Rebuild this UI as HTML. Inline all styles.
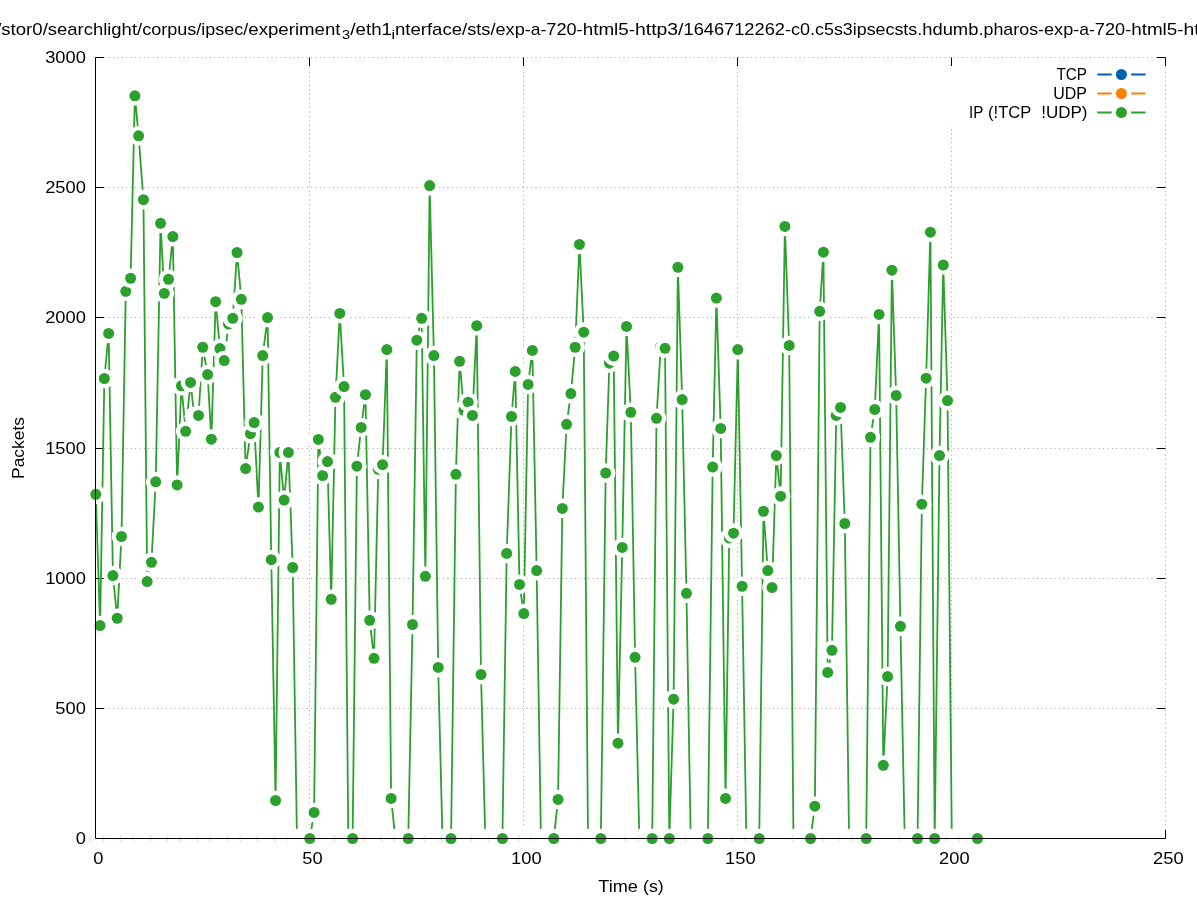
<!DOCTYPE html>
<html><head><meta charset="utf-8"><title>Packets over time</title>
<style>html,body{margin:0;padding:0;background:#fff}body{width:1197px;height:900px;overflow:hidden}svg{display:block;will-change:transform}text{font-family:"Liberation Sans",sans-serif;font-size:16.4px;fill:#000}</style>
</head><body>
<svg width="1197" height="900" viewBox="0 0 1197 900">
<rect x="0" y="0" width="1197" height="900" fill="#fff"/>
<g stroke="#a0a0a0" stroke-width="1" stroke-dasharray="1 3.4" fill="none">
<line x1="95.50" y1="838.50" x2="1165.50" y2="838.50"/>
<line x1="95.50" y1="708.50" x2="1165.50" y2="708.50"/>
<line x1="95.50" y1="578.50" x2="1165.50" y2="578.50"/>
<line x1="95.50" y1="448.50" x2="1165.50" y2="448.50"/>
<line x1="95.50" y1="317.50" x2="1165.50" y2="317.50"/>
<line x1="95.50" y1="187.50" x2="1165.50" y2="187.50"/>
<line x1="95.50" y1="57.50" x2="1165.50" y2="57.50"/>
<line x1="95.50" y1="838.50" x2="95.50" y2="57.50"/>
<line x1="309.50" y1="838.50" x2="309.50" y2="57.50"/>
<line x1="523.50" y1="838.50" x2="523.50" y2="57.50"/>
<line x1="737.50" y1="838.50" x2="737.50" y2="57.50"/>
<line x1="1165.50" y1="838.50" x2="1165.50" y2="57.50"/>
<line x1="951.50" y1="838.50" x2="951.50" y2="125.50"/>
</g>
<g stroke="#000" stroke-width="1" fill="none">
<path d="M95.50 838.50 h8.50 M1165.50 838.50 h-8.50"/>
<path d="M95.50 708.50 h8.50 M1165.50 708.50 h-8.50"/>
<path d="M95.50 578.50 h8.50 M1165.50 578.50 h-8.50"/>
<path d="M95.50 448.50 h8.50 M1165.50 448.50 h-8.50"/>
<path d="M95.50 317.50 h8.50 M1165.50 317.50 h-8.50"/>
<path d="M95.50 187.50 h8.50 M1165.50 187.50 h-8.50"/>
<path d="M95.50 57.50 h8.50 M1165.50 57.50 h-8.50"/>
<path d="M95.50 838.50 v-8.50 M95.50 57.50 v8.50"/>
<path d="M309.50 838.50 v-8.50 M309.50 57.50 v8.50"/>
<path d="M523.50 838.50 v-8.50 M523.50 57.50 v8.50"/>
<path d="M737.50 838.50 v-8.50 M737.50 57.50 v8.50"/>
<path d="M951.50 838.50 v-8.50 M951.50 57.50 v8.50"/>
<path d="M1165.50 838.50 v-8.50 M1165.50 57.50 v8.50"/>
</g>
<g>
<polyline fill="none" stroke="#ff7f00" stroke-width="1.8" stroke-linejoin="round" points="95.50,838.50 99.78,838.50 104.06,838.50 108.34,838.50 112.62,838.50 116.90,838.50 121.18,838.50 125.46,838.50 129.74,838.50 134.02,838.50 138.30,838.50 142.58,838.50 146.86,838.50 151.14,838.50 155.42,838.50 159.70,838.50 163.98,838.50 168.26,838.50 172.54,838.50 176.82,838.50 181.10,838.50 185.38,838.50 189.66,838.50 193.94,838.50 198.22,838.50 202.50,838.50 206.78,838.50 211.06,838.50 215.34,838.50 219.62,838.50 223.90,838.50 228.18,838.50 232.46,838.50 236.74,838.50 241.02,838.50 245.30,838.50 249.58,838.50 253.86,838.50 258.14,838.50 262.42,838.50 266.70,838.50 270.98,838.50 275.26,838.50 279.54,838.50 283.82,838.50 288.10,838.50 292.38,838.50 296.66,838.50 300.94,838.50 305.22,838.50 309.50,838.50 313.78,838.50 318.06,838.50 322.34,838.50 326.62,838.50 330.90,838.50 335.18,838.50 339.46,838.50 343.74,838.50 348.02,838.50 352.30,838.50 356.58,838.50 360.86,838.50 365.14,838.50 369.42,838.50 373.70,838.50 377.98,838.50 382.26,838.50 386.54,838.50 390.82,838.50 395.10,838.50 399.38,838.50 403.66,838.50 407.94,838.50 412.22,838.50 416.50,838.50 420.78,838.50 425.06,838.50 429.34,838.50 433.62,838.50 437.90,838.50 442.18,838.50 446.46,838.50 450.74,838.50 455.02,838.50 459.30,838.50 463.58,838.50 467.86,838.50 472.14,838.50 476.42,838.50 480.70,838.50 484.98,838.50 489.26,838.50 493.54,838.50 497.82,838.50 502.10,838.50 506.38,838.50 510.66,838.50 514.94,838.50 519.22,838.50 523.50,838.50 527.78,838.50 532.06,838.50 536.34,838.50 540.62,838.50 544.90,838.50 549.18,838.50 553.46,838.50 557.74,838.50 562.02,838.50 566.30,838.50 570.58,838.50 574.86,838.50 579.14,838.50 583.42,838.50 587.70,838.50 591.98,838.50 596.26,838.50 600.54,838.50 604.82,838.50 609.10,838.50 613.38,838.50 617.66,838.50 621.94,838.50 626.22,838.50 630.50,838.50 634.78,838.50 639.06,838.50 643.34,838.50 647.62,838.50 651.90,838.50 656.18,838.50 660.46,838.50 664.74,838.50 669.02,838.50 673.30,838.50 677.58,838.50 681.86,838.50 686.14,838.50 690.42,838.50 694.70,838.50 698.98,838.50 703.26,838.50 707.54,838.50 711.82,838.50 716.10,838.50 720.38,838.50 724.66,838.50 728.94,838.50 733.22,838.50 737.50,838.50 741.78,838.50 746.06,838.50 750.34,838.50 754.62,838.50 758.90,838.50 763.18,838.50 767.46,838.50 771.74,838.50 776.02,838.50 780.30,838.50 784.58,838.50 788.86,838.50 793.14,838.50 797.42,838.50 801.70,838.50 805.98,838.50 810.26,838.50 814.54,838.50 818.82,838.50 823.10,838.50 827.38,838.50 831.66,838.50 835.94,838.50 840.22,838.50 844.50,838.50 848.78,838.50 853.06,838.50 857.34,838.50 861.62,838.50 865.90,838.50 870.18,838.50 874.46,838.50 878.74,838.50 883.02,838.50 887.30,838.50 891.58,838.50 895.86,838.50 900.14,838.50 904.42,838.50 908.70,838.50 912.98,838.50 917.26,838.50 921.54,838.50 925.82,838.50 930.10,838.50 934.38,838.50 938.66,838.50 942.94,838.50 947.22,838.50 951.50,838.50 955.78,838.50 960.06,838.50 964.34,838.50 968.62,838.50 972.90,838.50 977.18,838.50"/>
<circle cx="95.50" cy="838.50" r="9.8" fill="#fff"/>
<circle cx="99.78" cy="838.50" r="9.8" fill="#fff"/>
<circle cx="104.06" cy="838.50" r="9.8" fill="#fff"/>
<circle cx="108.34" cy="838.50" r="9.8" fill="#fff"/>
<circle cx="112.62" cy="838.50" r="9.8" fill="#fff"/>
<circle cx="116.90" cy="838.50" r="9.8" fill="#fff"/>
<circle cx="121.18" cy="838.50" r="9.8" fill="#fff"/>
<circle cx="125.46" cy="838.50" r="9.8" fill="#fff"/>
<circle cx="129.74" cy="838.50" r="9.8" fill="#fff"/>
<circle cx="134.02" cy="838.50" r="9.8" fill="#fff"/>
<circle cx="138.30" cy="838.50" r="9.8" fill="#fff"/>
<circle cx="142.58" cy="838.50" r="9.8" fill="#fff"/>
<circle cx="146.86" cy="838.50" r="9.8" fill="#fff"/>
<circle cx="151.14" cy="838.50" r="9.8" fill="#fff"/>
<circle cx="155.42" cy="838.50" r="9.8" fill="#fff"/>
<circle cx="159.70" cy="838.50" r="9.8" fill="#fff"/>
<circle cx="163.98" cy="838.50" r="9.8" fill="#fff"/>
<circle cx="168.26" cy="838.50" r="9.8" fill="#fff"/>
<circle cx="172.54" cy="838.50" r="9.8" fill="#fff"/>
<circle cx="176.82" cy="838.50" r="9.8" fill="#fff"/>
<circle cx="181.10" cy="838.50" r="9.8" fill="#fff"/>
<circle cx="185.38" cy="838.50" r="9.8" fill="#fff"/>
<circle cx="189.66" cy="838.50" r="9.8" fill="#fff"/>
<circle cx="193.94" cy="838.50" r="9.8" fill="#fff"/>
<circle cx="198.22" cy="838.50" r="9.8" fill="#fff"/>
<circle cx="202.50" cy="838.50" r="9.8" fill="#fff"/>
<circle cx="206.78" cy="838.50" r="9.8" fill="#fff"/>
<circle cx="211.06" cy="838.50" r="9.8" fill="#fff"/>
<circle cx="215.34" cy="838.50" r="9.8" fill="#fff"/>
<circle cx="219.62" cy="838.50" r="9.8" fill="#fff"/>
<circle cx="223.90" cy="838.50" r="9.8" fill="#fff"/>
<circle cx="228.18" cy="838.50" r="9.8" fill="#fff"/>
<circle cx="232.46" cy="838.50" r="9.8" fill="#fff"/>
<circle cx="236.74" cy="838.50" r="9.8" fill="#fff"/>
<circle cx="241.02" cy="838.50" r="9.8" fill="#fff"/>
<circle cx="245.30" cy="838.50" r="9.8" fill="#fff"/>
<circle cx="249.58" cy="838.50" r="9.8" fill="#fff"/>
<circle cx="253.86" cy="838.50" r="9.8" fill="#fff"/>
<circle cx="258.14" cy="838.50" r="9.8" fill="#fff"/>
<circle cx="262.42" cy="838.50" r="9.8" fill="#fff"/>
<circle cx="266.70" cy="838.50" r="9.8" fill="#fff"/>
<circle cx="270.98" cy="838.50" r="9.8" fill="#fff"/>
<circle cx="275.26" cy="838.50" r="9.8" fill="#fff"/>
<circle cx="279.54" cy="838.50" r="9.8" fill="#fff"/>
<circle cx="283.82" cy="838.50" r="9.8" fill="#fff"/>
<circle cx="288.10" cy="838.50" r="9.8" fill="#fff"/>
<circle cx="292.38" cy="838.50" r="9.8" fill="#fff"/>
<circle cx="296.66" cy="838.50" r="9.8" fill="#fff"/>
<circle cx="300.94" cy="838.50" r="9.8" fill="#fff"/>
<circle cx="305.22" cy="838.50" r="9.8" fill="#fff"/>
<circle cx="309.50" cy="838.50" r="9.8" fill="#fff"/>
<circle cx="313.78" cy="838.50" r="9.8" fill="#fff"/>
<circle cx="318.06" cy="838.50" r="9.8" fill="#fff"/>
<circle cx="322.34" cy="838.50" r="9.8" fill="#fff"/>
<circle cx="326.62" cy="838.50" r="9.8" fill="#fff"/>
<circle cx="330.90" cy="838.50" r="9.8" fill="#fff"/>
<circle cx="335.18" cy="838.50" r="9.8" fill="#fff"/>
<circle cx="339.46" cy="838.50" r="9.8" fill="#fff"/>
<circle cx="343.74" cy="838.50" r="9.8" fill="#fff"/>
<circle cx="348.02" cy="838.50" r="9.8" fill="#fff"/>
<circle cx="352.30" cy="838.50" r="9.8" fill="#fff"/>
<circle cx="356.58" cy="838.50" r="9.8" fill="#fff"/>
<circle cx="360.86" cy="838.50" r="9.8" fill="#fff"/>
<circle cx="365.14" cy="838.50" r="9.8" fill="#fff"/>
<circle cx="369.42" cy="838.50" r="9.8" fill="#fff"/>
<circle cx="373.70" cy="838.50" r="9.8" fill="#fff"/>
<circle cx="377.98" cy="838.50" r="9.8" fill="#fff"/>
<circle cx="382.26" cy="838.50" r="9.8" fill="#fff"/>
<circle cx="386.54" cy="838.50" r="9.8" fill="#fff"/>
<circle cx="390.82" cy="838.50" r="9.8" fill="#fff"/>
<circle cx="395.10" cy="838.50" r="9.8" fill="#fff"/>
<circle cx="399.38" cy="838.50" r="9.8" fill="#fff"/>
<circle cx="403.66" cy="838.50" r="9.8" fill="#fff"/>
<circle cx="407.94" cy="838.50" r="9.8" fill="#fff"/>
<circle cx="412.22" cy="838.50" r="9.8" fill="#fff"/>
<circle cx="416.50" cy="838.50" r="9.8" fill="#fff"/>
<circle cx="420.78" cy="838.50" r="9.8" fill="#fff"/>
<circle cx="425.06" cy="838.50" r="9.8" fill="#fff"/>
<circle cx="429.34" cy="838.50" r="9.8" fill="#fff"/>
<circle cx="433.62" cy="838.50" r="9.8" fill="#fff"/>
<circle cx="437.90" cy="838.50" r="9.8" fill="#fff"/>
<circle cx="442.18" cy="838.50" r="9.8" fill="#fff"/>
<circle cx="446.46" cy="838.50" r="9.8" fill="#fff"/>
<circle cx="450.74" cy="838.50" r="9.8" fill="#fff"/>
<circle cx="455.02" cy="838.50" r="9.8" fill="#fff"/>
<circle cx="459.30" cy="838.50" r="9.8" fill="#fff"/>
<circle cx="463.58" cy="838.50" r="9.8" fill="#fff"/>
<circle cx="467.86" cy="838.50" r="9.8" fill="#fff"/>
<circle cx="472.14" cy="838.50" r="9.8" fill="#fff"/>
<circle cx="476.42" cy="838.50" r="9.8" fill="#fff"/>
<circle cx="480.70" cy="838.50" r="9.8" fill="#fff"/>
<circle cx="484.98" cy="838.50" r="9.8" fill="#fff"/>
<circle cx="489.26" cy="838.50" r="9.8" fill="#fff"/>
<circle cx="493.54" cy="838.50" r="9.8" fill="#fff"/>
<circle cx="497.82" cy="838.50" r="9.8" fill="#fff"/>
<circle cx="502.10" cy="838.50" r="9.8" fill="#fff"/>
<circle cx="506.38" cy="838.50" r="9.8" fill="#fff"/>
<circle cx="510.66" cy="838.50" r="9.8" fill="#fff"/>
<circle cx="514.94" cy="838.50" r="9.8" fill="#fff"/>
<circle cx="519.22" cy="838.50" r="9.8" fill="#fff"/>
<circle cx="523.50" cy="838.50" r="9.8" fill="#fff"/>
<circle cx="527.78" cy="838.50" r="9.8" fill="#fff"/>
<circle cx="532.06" cy="838.50" r="9.8" fill="#fff"/>
<circle cx="536.34" cy="838.50" r="9.8" fill="#fff"/>
<circle cx="540.62" cy="838.50" r="9.8" fill="#fff"/>
<circle cx="544.90" cy="838.50" r="9.8" fill="#fff"/>
<circle cx="549.18" cy="838.50" r="9.8" fill="#fff"/>
<circle cx="553.46" cy="838.50" r="9.8" fill="#fff"/>
<circle cx="557.74" cy="838.50" r="9.8" fill="#fff"/>
<circle cx="562.02" cy="838.50" r="9.8" fill="#fff"/>
<circle cx="566.30" cy="838.50" r="9.8" fill="#fff"/>
<circle cx="570.58" cy="838.50" r="9.8" fill="#fff"/>
<circle cx="574.86" cy="838.50" r="9.8" fill="#fff"/>
<circle cx="579.14" cy="838.50" r="9.8" fill="#fff"/>
<circle cx="583.42" cy="838.50" r="9.8" fill="#fff"/>
<circle cx="587.70" cy="838.50" r="9.8" fill="#fff"/>
<circle cx="591.98" cy="838.50" r="9.8" fill="#fff"/>
<circle cx="596.26" cy="838.50" r="9.8" fill="#fff"/>
<circle cx="600.54" cy="838.50" r="9.8" fill="#fff"/>
<circle cx="604.82" cy="838.50" r="9.8" fill="#fff"/>
<circle cx="609.10" cy="838.50" r="9.8" fill="#fff"/>
<circle cx="613.38" cy="838.50" r="9.8" fill="#fff"/>
<circle cx="617.66" cy="838.50" r="9.8" fill="#fff"/>
<circle cx="621.94" cy="838.50" r="9.8" fill="#fff"/>
<circle cx="626.22" cy="838.50" r="9.8" fill="#fff"/>
<circle cx="630.50" cy="838.50" r="9.8" fill="#fff"/>
<circle cx="634.78" cy="838.50" r="9.8" fill="#fff"/>
<circle cx="639.06" cy="838.50" r="9.8" fill="#fff"/>
<circle cx="643.34" cy="838.50" r="9.8" fill="#fff"/>
<circle cx="647.62" cy="838.50" r="9.8" fill="#fff"/>
<circle cx="651.90" cy="838.50" r="9.8" fill="#fff"/>
<circle cx="656.18" cy="838.50" r="9.8" fill="#fff"/>
<circle cx="660.46" cy="838.50" r="9.8" fill="#fff"/>
<circle cx="664.74" cy="838.50" r="9.8" fill="#fff"/>
<circle cx="669.02" cy="838.50" r="9.8" fill="#fff"/>
<circle cx="673.30" cy="838.50" r="9.8" fill="#fff"/>
<circle cx="677.58" cy="838.50" r="9.8" fill="#fff"/>
<circle cx="681.86" cy="838.50" r="9.8" fill="#fff"/>
<circle cx="686.14" cy="838.50" r="9.8" fill="#fff"/>
<circle cx="690.42" cy="838.50" r="9.8" fill="#fff"/>
<circle cx="694.70" cy="838.50" r="9.8" fill="#fff"/>
<circle cx="698.98" cy="838.50" r="9.8" fill="#fff"/>
<circle cx="703.26" cy="838.50" r="9.8" fill="#fff"/>
<circle cx="707.54" cy="838.50" r="9.8" fill="#fff"/>
<circle cx="711.82" cy="838.50" r="9.8" fill="#fff"/>
<circle cx="716.10" cy="838.50" r="9.8" fill="#fff"/>
<circle cx="720.38" cy="838.50" r="9.8" fill="#fff"/>
<circle cx="724.66" cy="838.50" r="9.8" fill="#fff"/>
<circle cx="728.94" cy="838.50" r="9.8" fill="#fff"/>
<circle cx="733.22" cy="838.50" r="9.8" fill="#fff"/>
<circle cx="737.50" cy="838.50" r="9.8" fill="#fff"/>
<circle cx="741.78" cy="838.50" r="9.8" fill="#fff"/>
<circle cx="746.06" cy="838.50" r="9.8" fill="#fff"/>
<circle cx="750.34" cy="838.50" r="9.8" fill="#fff"/>
<circle cx="754.62" cy="838.50" r="9.8" fill="#fff"/>
<circle cx="758.90" cy="838.50" r="9.8" fill="#fff"/>
<circle cx="763.18" cy="838.50" r="9.8" fill="#fff"/>
<circle cx="767.46" cy="838.50" r="9.8" fill="#fff"/>
<circle cx="771.74" cy="838.50" r="9.8" fill="#fff"/>
<circle cx="776.02" cy="838.50" r="9.8" fill="#fff"/>
<circle cx="780.30" cy="838.50" r="9.8" fill="#fff"/>
<circle cx="784.58" cy="838.50" r="9.8" fill="#fff"/>
<circle cx="788.86" cy="838.50" r="9.8" fill="#fff"/>
<circle cx="793.14" cy="838.50" r="9.8" fill="#fff"/>
<circle cx="797.42" cy="838.50" r="9.8" fill="#fff"/>
<circle cx="801.70" cy="838.50" r="9.8" fill="#fff"/>
<circle cx="805.98" cy="838.50" r="9.8" fill="#fff"/>
<circle cx="810.26" cy="838.50" r="9.8" fill="#fff"/>
<circle cx="814.54" cy="838.50" r="9.8" fill="#fff"/>
<circle cx="818.82" cy="838.50" r="9.8" fill="#fff"/>
<circle cx="823.10" cy="838.50" r="9.8" fill="#fff"/>
<circle cx="827.38" cy="838.50" r="9.8" fill="#fff"/>
<circle cx="831.66" cy="838.50" r="9.8" fill="#fff"/>
<circle cx="835.94" cy="838.50" r="9.8" fill="#fff"/>
<circle cx="840.22" cy="838.50" r="9.8" fill="#fff"/>
<circle cx="844.50" cy="838.50" r="9.8" fill="#fff"/>
<circle cx="848.78" cy="838.50" r="9.8" fill="#fff"/>
<circle cx="853.06" cy="838.50" r="9.8" fill="#fff"/>
<circle cx="857.34" cy="838.50" r="9.8" fill="#fff"/>
<circle cx="861.62" cy="838.50" r="9.8" fill="#fff"/>
<circle cx="865.90" cy="838.50" r="9.8" fill="#fff"/>
<circle cx="870.18" cy="838.50" r="9.8" fill="#fff"/>
<circle cx="874.46" cy="838.50" r="9.8" fill="#fff"/>
<circle cx="878.74" cy="838.50" r="9.8" fill="#fff"/>
<circle cx="883.02" cy="838.50" r="9.8" fill="#fff"/>
<circle cx="887.30" cy="838.50" r="9.8" fill="#fff"/>
<circle cx="891.58" cy="838.50" r="9.8" fill="#fff"/>
<circle cx="895.86" cy="838.50" r="9.8" fill="#fff"/>
<circle cx="900.14" cy="838.50" r="9.8" fill="#fff"/>
<circle cx="904.42" cy="838.50" r="9.8" fill="#fff"/>
<circle cx="908.70" cy="838.50" r="9.8" fill="#fff"/>
<circle cx="912.98" cy="838.50" r="9.8" fill="#fff"/>
<circle cx="917.26" cy="838.50" r="9.8" fill="#fff"/>
<circle cx="921.54" cy="838.50" r="9.8" fill="#fff"/>
<circle cx="925.82" cy="838.50" r="9.8" fill="#fff"/>
<circle cx="930.10" cy="838.50" r="9.8" fill="#fff"/>
<circle cx="934.38" cy="838.50" r="9.8" fill="#fff"/>
<circle cx="938.66" cy="838.50" r="9.8" fill="#fff"/>
<circle cx="942.94" cy="838.50" r="9.8" fill="#fff"/>
<circle cx="947.22" cy="838.50" r="9.8" fill="#fff"/>
<circle cx="951.50" cy="838.50" r="9.8" fill="#fff"/>
<circle cx="955.78" cy="838.50" r="9.8" fill="#fff"/>
<circle cx="960.06" cy="838.50" r="9.8" fill="#fff"/>
<circle cx="964.34" cy="838.50" r="9.8" fill="#fff"/>
<circle cx="968.62" cy="838.50" r="9.8" fill="#fff"/>
<circle cx="972.90" cy="838.50" r="9.8" fill="#fff"/>
<circle cx="977.18" cy="838.50" r="9.8" fill="#fff"/>
</g>
<g fill="none" stroke="#ff7f00" stroke-width="0.5" stroke-opacity="0.8">
<path d="M91.52 834.92 A5.35 5.35 0 0 0 91.52 842.08"/>
<path d="M104.36 834.92 A5.35 5.35 0 0 0 104.36 842.08"/>
<path d="M121.48 834.92 A5.35 5.35 0 0 0 121.48 842.08"/>
<path d="M134.32 834.92 A5.35 5.35 0 0 0 134.32 842.08"/>
<path d="M151.44 834.92 A5.35 5.35 0 0 0 151.44 842.08"/>
<path d="M168.56 834.92 A5.35 5.35 0 0 0 168.56 842.08"/>
<path d="M181.40 834.92 A5.35 5.35 0 0 0 181.40 842.08"/>
<path d="M198.52 834.92 A5.35 5.35 0 0 0 198.52 842.08"/>
<path d="M211.36 834.92 A5.35 5.35 0 0 0 211.36 842.08"/>
<path d="M228.48 834.92 A5.35 5.35 0 0 0 228.48 842.08"/>
<path d="M241.32 834.92 A5.35 5.35 0 0 0 241.32 842.08"/>
<path d="M258.44 834.92 A5.35 5.35 0 0 0 258.44 842.08"/>
<path d="M275.56 834.92 A5.35 5.35 0 0 0 275.56 842.08"/>
<path d="M288.40 834.92 A5.35 5.35 0 0 0 288.40 842.08"/>
<path d="M305.52 834.92 A5.35 5.35 0 0 0 305.52 842.08"/>
<path d="M318.36 834.92 A5.35 5.35 0 0 0 318.36 842.08"/>
<path d="M335.48 834.92 A5.35 5.35 0 0 0 335.48 842.08"/>
<path d="M348.32 834.92 A5.35 5.35 0 0 0 348.32 842.08"/>
<path d="M365.44 834.92 A5.35 5.35 0 0 0 365.44 842.08"/>
<path d="M382.56 834.92 A5.35 5.35 0 0 0 382.56 842.08"/>
<path d="M395.40 834.92 A5.35 5.35 0 0 0 395.40 842.08"/>
<path d="M412.52 834.92 A5.35 5.35 0 0 0 412.52 842.08"/>
<path d="M425.36 834.92 A5.35 5.35 0 0 0 425.36 842.08"/>
<path d="M442.48 834.92 A5.35 5.35 0 0 0 442.48 842.08"/>
<path d="M455.32 834.92 A5.35 5.35 0 0 0 455.32 842.08"/>
<path d="M472.44 834.92 A5.35 5.35 0 0 0 472.44 842.08"/>
<path d="M489.56 834.92 A5.35 5.35 0 0 0 489.56 842.08"/>
<path d="M502.40 834.92 A5.35 5.35 0 0 0 502.40 842.08"/>
<path d="M519.52 834.92 A5.35 5.35 0 0 0 519.52 842.08"/>
<path d="M532.36 834.92 A5.35 5.35 0 0 0 532.36 842.08"/>
<path d="M549.48 834.92 A5.35 5.35 0 0 0 549.48 842.08"/>
<path d="M579.44 834.92 A5.35 5.35 0 0 0 579.44 842.08"/>
<path d="M596.56 834.92 A5.35 5.35 0 0 0 596.56 842.08"/>
<path d="M609.40 834.92 A5.35 5.35 0 0 0 609.40 842.08"/>
<path d="M626.52 834.92 A5.35 5.35 0 0 0 626.52 842.08"/>
<path d="M639.36 834.92 A5.35 5.35 0 0 0 639.36 842.08"/>
<path d="M656.48 834.92 A5.35 5.35 0 0 0 656.48 842.08"/>
<path d="M686.44 834.92 A5.35 5.35 0 0 0 686.44 842.08"/>
<path d="M703.56 834.92 A5.35 5.35 0 0 0 703.56 842.08"/>
<path d="M716.40 834.92 A5.35 5.35 0 0 0 716.40 842.08"/>
<path d="M733.52 834.92 A5.35 5.35 0 0 0 733.52 842.08"/>
<path d="M746.36 834.92 A5.35 5.35 0 0 0 746.36 842.08"/>
<path d="M763.48 834.92 A5.35 5.35 0 0 0 763.48 842.08"/>
<path d="M793.44 834.92 A5.35 5.35 0 0 0 793.44 842.08"/>
<path d="M810.56 834.92 A5.35 5.35 0 0 0 810.56 842.08"/>
<path d="M823.40 834.92 A5.35 5.35 0 0 0 823.40 842.08"/>
<path d="M840.52 834.92 A5.35 5.35 0 0 0 840.52 842.08"/>
<path d="M853.36 834.92 A5.35 5.35 0 0 0 853.36 842.08"/>
<path d="M870.48 834.92 A5.35 5.35 0 0 0 870.48 842.08"/>
<path d="M900.44 834.92 A5.35 5.35 0 0 0 900.44 842.08"/>
<path d="M917.56 834.92 A5.35 5.35 0 0 0 917.56 842.08"/>
<path d="M930.40 834.92 A5.35 5.35 0 0 0 930.40 842.08"/>
<path d="M947.52 834.92 A5.35 5.35 0 0 0 947.52 842.08"/>
<path d="M960.36 834.92 A5.35 5.35 0 0 0 960.36 842.08"/>
</g>
<g>
<polyline fill="none" stroke="#2ca02c" stroke-width="1.8" stroke-linejoin="round" points="95.80,494.34 100.08,625.55 104.36,378.49 108.64,333.45 112.92,575.56 117.20,618.26 121.48,536.51 125.76,291.28 130.60,278.26 134.88,95.77 138.60,135.86 143.44,199.64 147.16,581.55 151.44,562.29 155.72,481.84 160.56,223.33 164.28,293.36 168.56,279.30 172.84,236.61 177.12,484.97 181.40,385.78 185.68,431.34 190.52,382.40 194.24,416.24 198.52,415.46 202.80,347.25 207.64,374.59 211.36,439.15 215.64,301.69 219.92,348.55 224.20,360.53 228.48,324.08 232.76,318.35 237.04,252.49 241.32,299.35 245.60,468.57 250.44,433.68 254.16,422.49 258.44,507.10 262.72,355.58 267.56,317.57 271.28,559.68 275.56,800.49 279.84,452.43 284.12,500.07 288.40,452.43 292.68,567.49 296.96,838.50 301.24,838.50 305.52,838.50 309.80,838.50 314.08,812.47 318.36,439.41 322.64,475.60 327.48,461.54 331.20,599.25 335.48,397.24 339.76,313.41 344.04,386.56 348.32,838.50 352.60,838.50 356.88,466.22 361.16,427.43 365.44,394.63 369.72,620.34 374.00,658.35 378.28,469.35 382.56,464.66 386.84,349.59 391.12,798.41 395.40,838.50 399.68,838.50 403.96,838.50 408.24,838.50 412.52,624.51 416.80,340.22 421.64,318.35 425.36,576.34 429.64,185.58 433.92,355.58 438.20,667.46 442.48,838.50 446.76,838.50 451.04,838.50 455.88,474.29 459.60,361.31 463.88,410.25 468.16,402.18 472.44,415.46 476.72,325.64 481.00,674.49 485.28,838.50 489.56,838.50 493.84,838.50 498.12,838.50 502.40,838.50 506.68,553.43 511.52,416.50 515.24,371.46 519.52,584.41 523.80,613.57 528.08,384.48 532.36,350.38 536.64,570.62 540.92,838.50 545.20,838.50 549.48,838.50 553.76,838.50 558.04,799.45 562.32,508.40 566.60,424.31 570.88,393.59 575.16,347.25 579.44,244.42 583.72,332.15 588.00,838.50 592.28,838.50 596.56,838.50 600.84,838.50 605.68,472.99 609.40,363.13 613.68,356.10 617.96,743.22 622.24,547.45 626.52,326.42 630.80,412.33 635.08,657.31 639.36,838.50 643.64,838.50 647.92,838.50 652.20,838.50 656.48,418.32 660.76,346.47 665.04,348.29 669.32,838.50 673.60,699.22 677.88,267.33 682.16,399.58 686.44,593.27 690.72,838.50 695.00,838.50 699.28,838.50 703.56,838.50 707.84,838.50 712.68,467.00 716.40,298.05 720.68,428.48 725.52,798.41 729.24,538.08 733.52,533.13 737.80,349.59 742.08,586.24 746.36,838.50 750.64,838.50 754.92,838.50 759.20,838.50 763.48,511.26 767.76,570.62 772.04,587.54 776.32,455.55 780.60,496.16 784.88,226.46 789.16,345.43 793.44,838.50 797.72,838.50 802.00,838.50 806.28,838.50 810.56,838.50 814.84,806.22 819.68,311.33 823.40,252.23 827.68,672.41 831.96,650.28 836.24,415.46 840.52,407.39 844.80,523.50 849.08,838.50 853.36,838.50 857.64,838.50 861.92,838.50 866.20,838.50 870.48,437.33 874.76,409.47 879.04,314.45 883.32,765.35 887.60,676.57 891.88,270.19 896.16,395.41 900.44,626.33 904.72,838.50 909.00,838.50 913.28,838.50 917.56,838.50 921.84,504.23 926.12,378.23 930.40,232.18 934.68,838.50 939.52,455.55 943.24,264.99 947.52,400.62 951.80,838.50 956.08,838.50 960.36,838.50 964.64,838.50 968.92,838.50 973.20,838.50 977.48,838.50"/>
<circle cx="95.80" cy="494.34" r="9.8" fill="#fff"/>
<circle cx="95.80" cy="494.34" r="5.5" fill="#2ca02c"/>
<circle cx="100.08" cy="625.55" r="9.8" fill="#fff"/>
<circle cx="100.08" cy="625.55" r="5.5" fill="#2ca02c"/>
<circle cx="104.36" cy="378.49" r="9.8" fill="#fff"/>
<circle cx="104.36" cy="378.49" r="5.5" fill="#2ca02c"/>
<circle cx="108.64" cy="333.45" r="9.8" fill="#fff"/>
<circle cx="108.64" cy="333.45" r="5.5" fill="#2ca02c"/>
<circle cx="112.92" cy="575.56" r="9.8" fill="#fff"/>
<circle cx="112.92" cy="575.56" r="5.5" fill="#2ca02c"/>
<circle cx="117.20" cy="618.26" r="9.8" fill="#fff"/>
<circle cx="117.20" cy="618.26" r="5.5" fill="#2ca02c"/>
<circle cx="121.48" cy="536.51" r="9.8" fill="#fff"/>
<circle cx="121.48" cy="536.51" r="5.5" fill="#2ca02c"/>
<circle cx="125.76" cy="291.28" r="9.8" fill="#fff"/>
<circle cx="125.76" cy="291.28" r="5.5" fill="#2ca02c"/>
<circle cx="130.60" cy="278.26" r="9.8" fill="#fff"/>
<circle cx="130.60" cy="278.26" r="5.5" fill="#2ca02c"/>
<circle cx="134.88" cy="95.77" r="9.8" fill="#fff"/>
<circle cx="134.88" cy="95.77" r="5.5" fill="#2ca02c"/>
<circle cx="138.60" cy="135.86" r="9.8" fill="#fff"/>
<circle cx="138.60" cy="135.86" r="5.5" fill="#2ca02c"/>
<circle cx="143.44" cy="199.64" r="9.8" fill="#fff"/>
<circle cx="143.44" cy="199.64" r="5.5" fill="#2ca02c"/>
<circle cx="147.16" cy="581.55" r="9.8" fill="#fff"/>
<circle cx="147.16" cy="581.55" r="5.5" fill="#2ca02c"/>
<circle cx="151.44" cy="562.29" r="9.8" fill="#fff"/>
<circle cx="151.44" cy="562.29" r="5.5" fill="#2ca02c"/>
<circle cx="155.72" cy="481.84" r="9.8" fill="#fff"/>
<circle cx="155.72" cy="481.84" r="5.5" fill="#2ca02c"/>
<circle cx="160.56" cy="223.33" r="9.8" fill="#fff"/>
<circle cx="160.56" cy="223.33" r="5.5" fill="#2ca02c"/>
<circle cx="164.28" cy="293.36" r="9.8" fill="#fff"/>
<circle cx="164.28" cy="293.36" r="5.5" fill="#2ca02c"/>
<circle cx="168.56" cy="279.30" r="9.8" fill="#fff"/>
<circle cx="168.56" cy="279.30" r="5.5" fill="#2ca02c"/>
<circle cx="172.84" cy="236.61" r="9.8" fill="#fff"/>
<circle cx="172.84" cy="236.61" r="5.5" fill="#2ca02c"/>
<circle cx="177.12" cy="484.97" r="9.8" fill="#fff"/>
<circle cx="177.12" cy="484.97" r="5.5" fill="#2ca02c"/>
<circle cx="181.40" cy="385.78" r="9.8" fill="#fff"/>
<circle cx="181.40" cy="385.78" r="5.5" fill="#2ca02c"/>
<circle cx="185.68" cy="431.34" r="9.8" fill="#fff"/>
<circle cx="185.68" cy="431.34" r="5.5" fill="#2ca02c"/>
<circle cx="190.52" cy="382.40" r="9.8" fill="#fff"/>
<circle cx="190.52" cy="382.40" r="5.5" fill="#2ca02c"/>
<circle cx="194.24" cy="416.24" r="9.8" fill="#fff"/>
<circle cx="198.52" cy="415.46" r="9.8" fill="#fff"/>
<circle cx="198.52" cy="415.46" r="5.5" fill="#2ca02c"/>
<circle cx="202.80" cy="347.25" r="9.8" fill="#fff"/>
<circle cx="202.80" cy="347.25" r="5.5" fill="#2ca02c"/>
<circle cx="207.64" cy="374.59" r="9.8" fill="#fff"/>
<circle cx="207.64" cy="374.59" r="5.5" fill="#2ca02c"/>
<circle cx="211.36" cy="439.15" r="9.8" fill="#fff"/>
<circle cx="211.36" cy="439.15" r="5.5" fill="#2ca02c"/>
<circle cx="215.64" cy="301.69" r="9.8" fill="#fff"/>
<circle cx="215.64" cy="301.69" r="5.5" fill="#2ca02c"/>
<circle cx="219.92" cy="348.55" r="9.8" fill="#fff"/>
<circle cx="219.92" cy="348.55" r="5.5" fill="#2ca02c"/>
<circle cx="224.20" cy="360.53" r="9.8" fill="#fff"/>
<circle cx="224.20" cy="360.53" r="5.5" fill="#2ca02c"/>
<circle cx="228.48" cy="324.08" r="9.8" fill="#fff"/>
<circle cx="228.48" cy="324.08" r="5.5" fill="#2ca02c"/>
<circle cx="232.76" cy="318.35" r="9.8" fill="#fff"/>
<circle cx="232.76" cy="318.35" r="5.5" fill="#2ca02c"/>
<circle cx="237.04" cy="252.49" r="9.8" fill="#fff"/>
<circle cx="237.04" cy="252.49" r="5.5" fill="#2ca02c"/>
<circle cx="241.32" cy="299.35" r="9.8" fill="#fff"/>
<circle cx="241.32" cy="299.35" r="5.5" fill="#2ca02c"/>
<circle cx="245.60" cy="468.57" r="9.8" fill="#fff"/>
<circle cx="245.60" cy="468.57" r="5.5" fill="#2ca02c"/>
<circle cx="250.44" cy="433.68" r="9.8" fill="#fff"/>
<circle cx="250.44" cy="433.68" r="5.5" fill="#2ca02c"/>
<circle cx="254.16" cy="422.49" r="9.8" fill="#fff"/>
<circle cx="254.16" cy="422.49" r="5.5" fill="#2ca02c"/>
<circle cx="258.44" cy="507.10" r="9.8" fill="#fff"/>
<circle cx="258.44" cy="507.10" r="5.5" fill="#2ca02c"/>
<circle cx="262.72" cy="355.58" r="9.8" fill="#fff"/>
<circle cx="262.72" cy="355.58" r="5.5" fill="#2ca02c"/>
<circle cx="267.56" cy="317.57" r="9.8" fill="#fff"/>
<circle cx="267.56" cy="317.57" r="5.5" fill="#2ca02c"/>
<circle cx="271.28" cy="559.68" r="9.8" fill="#fff"/>
<circle cx="271.28" cy="559.68" r="5.5" fill="#2ca02c"/>
<circle cx="275.56" cy="800.49" r="9.8" fill="#fff"/>
<circle cx="275.56" cy="800.49" r="5.5" fill="#2ca02c"/>
<circle cx="279.84" cy="452.43" r="9.8" fill="#fff"/>
<circle cx="279.84" cy="452.43" r="5.5" fill="#2ca02c"/>
<circle cx="284.12" cy="500.07" r="9.8" fill="#fff"/>
<circle cx="284.12" cy="500.07" r="5.5" fill="#2ca02c"/>
<circle cx="288.40" cy="452.43" r="9.8" fill="#fff"/>
<circle cx="288.40" cy="452.43" r="5.5" fill="#2ca02c"/>
<circle cx="292.68" cy="567.49" r="9.8" fill="#fff"/>
<circle cx="292.68" cy="567.49" r="5.5" fill="#2ca02c"/>
<circle cx="296.96" cy="838.50" r="9.8" fill="#fff"/>
<circle cx="301.24" cy="838.50" r="9.8" fill="#fff"/>
<circle cx="305.52" cy="838.50" r="9.8" fill="#fff"/>
<circle cx="309.80" cy="838.50" r="9.8" fill="#fff"/>
<circle cx="309.80" cy="838.50" r="5.5" fill="#2ca02c"/>
<circle cx="314.08" cy="812.47" r="9.8" fill="#fff"/>
<circle cx="314.08" cy="812.47" r="5.5" fill="#2ca02c"/>
<circle cx="318.36" cy="439.41" r="9.8" fill="#fff"/>
<circle cx="318.36" cy="439.41" r="5.5" fill="#2ca02c"/>
<circle cx="322.64" cy="475.60" r="9.8" fill="#fff"/>
<circle cx="322.64" cy="475.60" r="5.5" fill="#2ca02c"/>
<circle cx="327.48" cy="461.54" r="9.8" fill="#fff"/>
<circle cx="327.48" cy="461.54" r="5.5" fill="#2ca02c"/>
<circle cx="331.20" cy="599.25" r="9.8" fill="#fff"/>
<circle cx="331.20" cy="599.25" r="5.5" fill="#2ca02c"/>
<circle cx="335.48" cy="397.24" r="9.8" fill="#fff"/>
<circle cx="335.48" cy="397.24" r="5.5" fill="#2ca02c"/>
<circle cx="339.76" cy="313.41" r="9.8" fill="#fff"/>
<circle cx="339.76" cy="313.41" r="5.5" fill="#2ca02c"/>
<circle cx="344.04" cy="386.56" r="9.8" fill="#fff"/>
<circle cx="344.04" cy="386.56" r="5.5" fill="#2ca02c"/>
<circle cx="348.32" cy="838.50" r="9.8" fill="#fff"/>
<circle cx="352.60" cy="838.50" r="9.8" fill="#fff"/>
<circle cx="352.60" cy="838.50" r="5.5" fill="#2ca02c"/>
<circle cx="356.88" cy="466.22" r="9.8" fill="#fff"/>
<circle cx="356.88" cy="466.22" r="5.5" fill="#2ca02c"/>
<circle cx="361.16" cy="427.43" r="9.8" fill="#fff"/>
<circle cx="361.16" cy="427.43" r="5.5" fill="#2ca02c"/>
<circle cx="365.44" cy="394.63" r="9.8" fill="#fff"/>
<circle cx="365.44" cy="394.63" r="5.5" fill="#2ca02c"/>
<circle cx="369.72" cy="620.34" r="9.8" fill="#fff"/>
<circle cx="369.72" cy="620.34" r="5.5" fill="#2ca02c"/>
<circle cx="374.00" cy="658.35" r="9.8" fill="#fff"/>
<circle cx="374.00" cy="658.35" r="5.5" fill="#2ca02c"/>
<circle cx="378.28" cy="469.35" r="9.8" fill="#fff"/>
<circle cx="378.28" cy="469.35" r="5.5" fill="#2ca02c"/>
<circle cx="382.56" cy="464.66" r="9.8" fill="#fff"/>
<circle cx="382.56" cy="464.66" r="5.5" fill="#2ca02c"/>
<circle cx="386.84" cy="349.59" r="9.8" fill="#fff"/>
<circle cx="386.84" cy="349.59" r="5.5" fill="#2ca02c"/>
<circle cx="391.12" cy="798.41" r="9.8" fill="#fff"/>
<circle cx="391.12" cy="798.41" r="5.5" fill="#2ca02c"/>
<circle cx="395.40" cy="838.50" r="9.8" fill="#fff"/>
<circle cx="399.68" cy="838.50" r="9.8" fill="#fff"/>
<circle cx="403.96" cy="838.50" r="9.8" fill="#fff"/>
<circle cx="408.24" cy="838.50" r="9.8" fill="#fff"/>
<circle cx="408.24" cy="838.50" r="5.5" fill="#2ca02c"/>
<circle cx="412.52" cy="624.51" r="9.8" fill="#fff"/>
<circle cx="412.52" cy="624.51" r="5.5" fill="#2ca02c"/>
<circle cx="416.80" cy="340.22" r="9.8" fill="#fff"/>
<circle cx="416.80" cy="340.22" r="5.5" fill="#2ca02c"/>
<circle cx="421.64" cy="318.35" r="9.8" fill="#fff"/>
<circle cx="421.64" cy="318.35" r="5.5" fill="#2ca02c"/>
<circle cx="425.36" cy="576.34" r="9.8" fill="#fff"/>
<circle cx="425.36" cy="576.34" r="5.5" fill="#2ca02c"/>
<circle cx="429.64" cy="185.58" r="9.8" fill="#fff"/>
<circle cx="429.64" cy="185.58" r="5.5" fill="#2ca02c"/>
<circle cx="433.92" cy="355.58" r="9.8" fill="#fff"/>
<circle cx="433.92" cy="355.58" r="5.5" fill="#2ca02c"/>
<circle cx="438.20" cy="667.46" r="9.8" fill="#fff"/>
<circle cx="438.20" cy="667.46" r="5.5" fill="#2ca02c"/>
<circle cx="442.48" cy="838.50" r="9.8" fill="#fff"/>
<circle cx="446.76" cy="838.50" r="9.8" fill="#fff"/>
<circle cx="451.04" cy="838.50" r="9.8" fill="#fff"/>
<circle cx="451.04" cy="838.50" r="5.5" fill="#2ca02c"/>
<circle cx="455.88" cy="474.29" r="9.8" fill="#fff"/>
<circle cx="455.88" cy="474.29" r="5.5" fill="#2ca02c"/>
<circle cx="459.60" cy="361.31" r="9.8" fill="#fff"/>
<circle cx="459.60" cy="361.31" r="5.5" fill="#2ca02c"/>
<circle cx="463.88" cy="410.25" r="9.8" fill="#fff"/>
<circle cx="463.88" cy="410.25" r="5.5" fill="#2ca02c"/>
<circle cx="468.16" cy="402.18" r="9.8" fill="#fff"/>
<circle cx="468.16" cy="402.18" r="5.5" fill="#2ca02c"/>
<circle cx="472.44" cy="415.46" r="9.8" fill="#fff"/>
<circle cx="472.44" cy="415.46" r="5.5" fill="#2ca02c"/>
<circle cx="476.72" cy="325.64" r="9.8" fill="#fff"/>
<circle cx="476.72" cy="325.64" r="5.5" fill="#2ca02c"/>
<circle cx="481.00" cy="674.49" r="9.8" fill="#fff"/>
<circle cx="481.00" cy="674.49" r="5.5" fill="#2ca02c"/>
<circle cx="485.28" cy="838.50" r="9.8" fill="#fff"/>
<circle cx="489.56" cy="838.50" r="9.8" fill="#fff"/>
<circle cx="493.84" cy="838.50" r="9.8" fill="#fff"/>
<circle cx="498.12" cy="838.50" r="9.8" fill="#fff"/>
<circle cx="502.40" cy="838.50" r="9.8" fill="#fff"/>
<circle cx="502.40" cy="838.50" r="5.5" fill="#2ca02c"/>
<circle cx="506.68" cy="553.43" r="9.8" fill="#fff"/>
<circle cx="506.68" cy="553.43" r="5.5" fill="#2ca02c"/>
<circle cx="511.52" cy="416.50" r="9.8" fill="#fff"/>
<circle cx="511.52" cy="416.50" r="5.5" fill="#2ca02c"/>
<circle cx="515.24" cy="371.46" r="9.8" fill="#fff"/>
<circle cx="515.24" cy="371.46" r="5.5" fill="#2ca02c"/>
<circle cx="519.52" cy="584.41" r="9.8" fill="#fff"/>
<circle cx="519.52" cy="584.41" r="5.5" fill="#2ca02c"/>
<circle cx="523.80" cy="613.57" r="9.8" fill="#fff"/>
<circle cx="523.80" cy="613.57" r="5.5" fill="#2ca02c"/>
<circle cx="528.08" cy="384.48" r="9.8" fill="#fff"/>
<circle cx="528.08" cy="384.48" r="5.5" fill="#2ca02c"/>
<circle cx="532.36" cy="350.38" r="9.8" fill="#fff"/>
<circle cx="532.36" cy="350.38" r="5.5" fill="#2ca02c"/>
<circle cx="536.64" cy="570.62" r="9.8" fill="#fff"/>
<circle cx="536.64" cy="570.62" r="5.5" fill="#2ca02c"/>
<circle cx="540.92" cy="838.50" r="9.8" fill="#fff"/>
<circle cx="545.20" cy="838.50" r="9.8" fill="#fff"/>
<circle cx="549.48" cy="838.50" r="9.8" fill="#fff"/>
<circle cx="553.76" cy="838.50" r="9.8" fill="#fff"/>
<circle cx="553.76" cy="838.50" r="5.5" fill="#2ca02c"/>
<circle cx="558.04" cy="799.45" r="9.8" fill="#fff"/>
<circle cx="558.04" cy="799.45" r="5.5" fill="#2ca02c"/>
<circle cx="562.32" cy="508.40" r="9.8" fill="#fff"/>
<circle cx="562.32" cy="508.40" r="5.5" fill="#2ca02c"/>
<circle cx="566.60" cy="424.31" r="9.8" fill="#fff"/>
<circle cx="566.60" cy="424.31" r="5.5" fill="#2ca02c"/>
<circle cx="570.88" cy="393.59" r="9.8" fill="#fff"/>
<circle cx="570.88" cy="393.59" r="5.5" fill="#2ca02c"/>
<circle cx="575.16" cy="347.25" r="9.8" fill="#fff"/>
<circle cx="575.16" cy="347.25" r="5.5" fill="#2ca02c"/>
<circle cx="579.44" cy="244.42" r="9.8" fill="#fff"/>
<circle cx="579.44" cy="244.42" r="5.5" fill="#2ca02c"/>
<circle cx="583.72" cy="332.15" r="9.8" fill="#fff"/>
<circle cx="583.72" cy="332.15" r="5.5" fill="#2ca02c"/>
<circle cx="588.00" cy="838.50" r="9.8" fill="#fff"/>
<circle cx="592.28" cy="838.50" r="9.8" fill="#fff"/>
<circle cx="596.56" cy="838.50" r="9.8" fill="#fff"/>
<circle cx="600.84" cy="838.50" r="9.8" fill="#fff"/>
<circle cx="600.84" cy="838.50" r="5.5" fill="#2ca02c"/>
<circle cx="605.68" cy="472.99" r="9.8" fill="#fff"/>
<circle cx="605.68" cy="472.99" r="5.5" fill="#2ca02c"/>
<circle cx="609.40" cy="363.13" r="9.8" fill="#fff"/>
<circle cx="609.40" cy="363.13" r="5.5" fill="#2ca02c"/>
<circle cx="613.68" cy="356.10" r="9.8" fill="#fff"/>
<circle cx="613.68" cy="356.10" r="5.5" fill="#2ca02c"/>
<circle cx="617.96" cy="743.22" r="9.8" fill="#fff"/>
<circle cx="617.96" cy="743.22" r="5.5" fill="#2ca02c"/>
<circle cx="622.24" cy="547.45" r="9.8" fill="#fff"/>
<circle cx="622.24" cy="547.45" r="5.5" fill="#2ca02c"/>
<circle cx="626.52" cy="326.42" r="9.8" fill="#fff"/>
<circle cx="626.52" cy="326.42" r="5.5" fill="#2ca02c"/>
<circle cx="630.80" cy="412.33" r="9.8" fill="#fff"/>
<circle cx="630.80" cy="412.33" r="5.5" fill="#2ca02c"/>
<circle cx="635.08" cy="657.31" r="9.8" fill="#fff"/>
<circle cx="635.08" cy="657.31" r="5.5" fill="#2ca02c"/>
<circle cx="639.36" cy="838.50" r="9.8" fill="#fff"/>
<circle cx="643.64" cy="838.50" r="9.8" fill="#fff"/>
<circle cx="647.92" cy="838.50" r="9.8" fill="#fff"/>
<circle cx="652.20" cy="838.50" r="9.8" fill="#fff"/>
<circle cx="652.20" cy="838.50" r="5.5" fill="#2ca02c"/>
<circle cx="656.48" cy="418.32" r="9.8" fill="#fff"/>
<circle cx="656.48" cy="418.32" r="5.5" fill="#2ca02c"/>
<circle cx="660.76" cy="346.47" r="9.8" fill="#fff"/>
<circle cx="660.76" cy="346.47" r="5.5" fill="#2ca02c"/>
<circle cx="665.04" cy="348.29" r="9.8" fill="#fff"/>
<circle cx="665.04" cy="348.29" r="5.5" fill="#2ca02c"/>
<circle cx="669.32" cy="838.50" r="9.8" fill="#fff"/>
<circle cx="669.32" cy="838.50" r="5.5" fill="#2ca02c"/>
<circle cx="673.60" cy="699.22" r="9.8" fill="#fff"/>
<circle cx="673.60" cy="699.22" r="5.5" fill="#2ca02c"/>
<circle cx="677.88" cy="267.33" r="9.8" fill="#fff"/>
<circle cx="677.88" cy="267.33" r="5.5" fill="#2ca02c"/>
<circle cx="682.16" cy="399.58" r="9.8" fill="#fff"/>
<circle cx="682.16" cy="399.58" r="5.5" fill="#2ca02c"/>
<circle cx="686.44" cy="593.27" r="9.8" fill="#fff"/>
<circle cx="686.44" cy="593.27" r="5.5" fill="#2ca02c"/>
<circle cx="690.72" cy="838.50" r="9.8" fill="#fff"/>
<circle cx="695.00" cy="838.50" r="9.8" fill="#fff"/>
<circle cx="699.28" cy="838.50" r="9.8" fill="#fff"/>
<circle cx="703.56" cy="838.50" r="9.8" fill="#fff"/>
<circle cx="707.84" cy="838.50" r="9.8" fill="#fff"/>
<circle cx="707.84" cy="838.50" r="5.5" fill="#2ca02c"/>
<circle cx="712.68" cy="467.00" r="9.8" fill="#fff"/>
<circle cx="712.68" cy="467.00" r="5.5" fill="#2ca02c"/>
<circle cx="716.40" cy="298.05" r="9.8" fill="#fff"/>
<circle cx="716.40" cy="298.05" r="5.5" fill="#2ca02c"/>
<circle cx="720.68" cy="428.48" r="9.8" fill="#fff"/>
<circle cx="720.68" cy="428.48" r="5.5" fill="#2ca02c"/>
<circle cx="725.52" cy="798.41" r="9.8" fill="#fff"/>
<circle cx="725.52" cy="798.41" r="5.5" fill="#2ca02c"/>
<circle cx="729.24" cy="538.08" r="9.8" fill="#fff"/>
<circle cx="729.24" cy="538.08" r="5.5" fill="#2ca02c"/>
<circle cx="733.52" cy="533.13" r="9.8" fill="#fff"/>
<circle cx="733.52" cy="533.13" r="5.5" fill="#2ca02c"/>
<circle cx="737.80" cy="349.59" r="9.8" fill="#fff"/>
<circle cx="737.80" cy="349.59" r="5.5" fill="#2ca02c"/>
<circle cx="742.08" cy="586.24" r="9.8" fill="#fff"/>
<circle cx="742.08" cy="586.24" r="5.5" fill="#2ca02c"/>
<circle cx="746.36" cy="838.50" r="9.8" fill="#fff"/>
<circle cx="750.64" cy="838.50" r="9.8" fill="#fff"/>
<circle cx="754.92" cy="838.50" r="9.8" fill="#fff"/>
<circle cx="759.20" cy="838.50" r="9.8" fill="#fff"/>
<circle cx="759.20" cy="838.50" r="5.5" fill="#2ca02c"/>
<circle cx="763.48" cy="511.26" r="9.8" fill="#fff"/>
<circle cx="763.48" cy="511.26" r="5.5" fill="#2ca02c"/>
<circle cx="767.76" cy="570.62" r="9.8" fill="#fff"/>
<circle cx="767.76" cy="570.62" r="5.5" fill="#2ca02c"/>
<circle cx="772.04" cy="587.54" r="9.8" fill="#fff"/>
<circle cx="772.04" cy="587.54" r="5.5" fill="#2ca02c"/>
<circle cx="776.32" cy="455.55" r="9.8" fill="#fff"/>
<circle cx="776.32" cy="455.55" r="5.5" fill="#2ca02c"/>
<circle cx="780.60" cy="496.16" r="9.8" fill="#fff"/>
<circle cx="780.60" cy="496.16" r="5.5" fill="#2ca02c"/>
<circle cx="784.88" cy="226.46" r="9.8" fill="#fff"/>
<circle cx="784.88" cy="226.46" r="5.5" fill="#2ca02c"/>
<circle cx="789.16" cy="345.43" r="9.8" fill="#fff"/>
<circle cx="789.16" cy="345.43" r="5.5" fill="#2ca02c"/>
<circle cx="793.44" cy="838.50" r="9.8" fill="#fff"/>
<circle cx="797.72" cy="838.50" r="9.8" fill="#fff"/>
<circle cx="802.00" cy="838.50" r="9.8" fill="#fff"/>
<circle cx="806.28" cy="838.50" r="9.8" fill="#fff"/>
<circle cx="810.56" cy="838.50" r="9.8" fill="#fff"/>
<circle cx="810.56" cy="838.50" r="5.5" fill="#2ca02c"/>
<circle cx="814.84" cy="806.22" r="9.8" fill="#fff"/>
<circle cx="814.84" cy="806.22" r="5.5" fill="#2ca02c"/>
<circle cx="819.68" cy="311.33" r="9.8" fill="#fff"/>
<circle cx="819.68" cy="311.33" r="5.5" fill="#2ca02c"/>
<circle cx="823.40" cy="252.23" r="9.8" fill="#fff"/>
<circle cx="823.40" cy="252.23" r="5.5" fill="#2ca02c"/>
<circle cx="827.68" cy="672.41" r="9.8" fill="#fff"/>
<circle cx="827.68" cy="672.41" r="5.5" fill="#2ca02c"/>
<circle cx="831.96" cy="650.28" r="9.8" fill="#fff"/>
<circle cx="831.96" cy="650.28" r="5.5" fill="#2ca02c"/>
<circle cx="836.24" cy="415.46" r="9.8" fill="#fff"/>
<circle cx="836.24" cy="415.46" r="5.5" fill="#2ca02c"/>
<circle cx="840.52" cy="407.39" r="9.8" fill="#fff"/>
<circle cx="840.52" cy="407.39" r="5.5" fill="#2ca02c"/>
<circle cx="844.80" cy="523.50" r="9.8" fill="#fff"/>
<circle cx="844.80" cy="523.50" r="5.5" fill="#2ca02c"/>
<circle cx="849.08" cy="838.50" r="9.8" fill="#fff"/>
<circle cx="853.36" cy="838.50" r="9.8" fill="#fff"/>
<circle cx="857.64" cy="838.50" r="9.8" fill="#fff"/>
<circle cx="861.92" cy="838.50" r="9.8" fill="#fff"/>
<circle cx="866.20" cy="838.50" r="9.8" fill="#fff"/>
<circle cx="866.20" cy="838.50" r="5.5" fill="#2ca02c"/>
<circle cx="870.48" cy="437.33" r="9.8" fill="#fff"/>
<circle cx="870.48" cy="437.33" r="5.5" fill="#2ca02c"/>
<circle cx="874.76" cy="409.47" r="9.8" fill="#fff"/>
<circle cx="874.76" cy="409.47" r="5.5" fill="#2ca02c"/>
<circle cx="879.04" cy="314.45" r="9.8" fill="#fff"/>
<circle cx="879.04" cy="314.45" r="5.5" fill="#2ca02c"/>
<circle cx="883.32" cy="765.35" r="9.8" fill="#fff"/>
<circle cx="883.32" cy="765.35" r="5.5" fill="#2ca02c"/>
<circle cx="887.60" cy="676.57" r="9.8" fill="#fff"/>
<circle cx="887.60" cy="676.57" r="5.5" fill="#2ca02c"/>
<circle cx="891.88" cy="270.19" r="9.8" fill="#fff"/>
<circle cx="891.88" cy="270.19" r="5.5" fill="#2ca02c"/>
<circle cx="896.16" cy="395.41" r="9.8" fill="#fff"/>
<circle cx="896.16" cy="395.41" r="5.5" fill="#2ca02c"/>
<circle cx="900.44" cy="626.33" r="9.8" fill="#fff"/>
<circle cx="900.44" cy="626.33" r="5.5" fill="#2ca02c"/>
<circle cx="904.72" cy="838.50" r="9.8" fill="#fff"/>
<circle cx="909.00" cy="838.50" r="9.8" fill="#fff"/>
<circle cx="913.28" cy="838.50" r="9.8" fill="#fff"/>
<circle cx="917.56" cy="838.50" r="9.8" fill="#fff"/>
<circle cx="917.56" cy="838.50" r="5.5" fill="#2ca02c"/>
<circle cx="921.84" cy="504.23" r="9.8" fill="#fff"/>
<circle cx="921.84" cy="504.23" r="5.5" fill="#2ca02c"/>
<circle cx="926.12" cy="378.23" r="9.8" fill="#fff"/>
<circle cx="926.12" cy="378.23" r="5.5" fill="#2ca02c"/>
<circle cx="930.40" cy="232.18" r="9.8" fill="#fff"/>
<circle cx="930.40" cy="232.18" r="5.5" fill="#2ca02c"/>
<circle cx="934.68" cy="838.50" r="9.8" fill="#fff"/>
<circle cx="934.68" cy="838.50" r="5.5" fill="#2ca02c"/>
<circle cx="939.52" cy="455.55" r="9.8" fill="#fff"/>
<circle cx="939.52" cy="455.55" r="5.5" fill="#2ca02c"/>
<circle cx="943.24" cy="264.99" r="9.8" fill="#fff"/>
<circle cx="943.24" cy="264.99" r="5.5" fill="#2ca02c"/>
<circle cx="947.52" cy="400.62" r="9.8" fill="#fff"/>
<circle cx="947.52" cy="400.62" r="5.5" fill="#2ca02c"/>
<circle cx="951.80" cy="838.50" r="9.8" fill="#fff"/>
<circle cx="956.08" cy="838.50" r="9.8" fill="#fff"/>
<circle cx="960.36" cy="838.50" r="9.8" fill="#fff"/>
<circle cx="964.64" cy="838.50" r="9.8" fill="#fff"/>
<circle cx="968.92" cy="838.50" r="9.8" fill="#fff"/>
<circle cx="973.20" cy="838.50" r="9.8" fill="#fff"/>
<circle cx="977.48" cy="838.50" r="9.8" fill="#fff"/>
<circle cx="977.48" cy="838.50" r="5.5" fill="#2ca02c"/>
</g>
<g fill="none" stroke="#2ca02c" stroke-width="0.5" stroke-opacity="0.55">
<path d="M395.40 834.92 A5.35 5.35 0 0 0 395.40 842.08"/>
<path d="M442.48 834.92 A5.35 5.35 0 0 0 442.48 842.08"/>
<path d="M489.56 834.92 A5.35 5.35 0 0 0 489.56 842.08"/>
<path d="M639.36 834.92 A5.35 5.35 0 0 0 639.36 842.08"/>
<path d="M686.44 834.92 A5.35 5.35 0 0 0 686.44 842.08"/>
<path d="M746.36 834.92 A5.35 5.35 0 0 0 746.36 842.08"/>
<path d="M793.44 834.92 A5.35 5.35 0 0 0 793.44 842.08"/>
<path d="M853.36 834.92 A5.35 5.35 0 0 0 853.36 842.08"/>
<path d="M900.44 834.92 A5.35 5.35 0 0 0 900.44 842.08"/>
<path d="M947.52 834.92 A5.35 5.35 0 0 0 947.52 842.08"/>
<path d="M960.36 834.92 A5.35 5.35 0 0 0 960.36 842.08"/>
</g>
<line x1="1097.30" y1="74.50" x2="1145.50" y2="74.50" stroke="#0060ad" stroke-width="1.8"/>
<circle cx="1121.40" cy="74.50" r="9.8" fill="#fff"/><circle cx="1121.40" cy="74.50" r="5.5" fill="#0060ad"/>
<line x1="1097.30" y1="93.50" x2="1145.50" y2="93.50" stroke="#ff7f00" stroke-width="1.8"/>
<circle cx="1121.40" cy="93.50" r="9.8" fill="#fff"/><circle cx="1121.40" cy="93.50" r="5.5" fill="#ff7f00"/>
<line x1="1097.30" y1="112.50" x2="1145.50" y2="112.50" stroke="#2ca02c" stroke-width="1.8"/>
<circle cx="1121.40" cy="112.50" r="9.8" fill="#fff"/><circle cx="1121.40" cy="112.50" r="5.5" fill="#2ca02c"/>
<g stroke="#000" stroke-width="1" fill="none">
<path d="M95.50 57.50 V838.50 H1165.50"/>
</g>
<text y="34.90" style="font-size:16.40px" ><tspan x="-4.12" textLength="5.39" lengthAdjust="spacingAndGlyphs">/</tspan><tspan x="1.27" textLength="46.55" lengthAdjust="spacingAndGlyphs">stor0/</tspan><tspan x="47.81" textLength="94.35" lengthAdjust="spacingAndGlyphs">searchlight/</tspan><tspan x="142.16" textLength="59.19" lengthAdjust="spacingAndGlyphs">corpus/</tspan><tspan x="201.35" textLength="46.97" lengthAdjust="spacingAndGlyphs">ipsec/</tspan><tspan x="248.32" textLength="92.18" lengthAdjust="spacingAndGlyphs">experiment</tspan></text>
<text y="38.80" style="font-size:13.12px" ><tspan x="342.00" textLength="8.14" lengthAdjust="spacingAndGlyphs">3</tspan></text>
<text y="34.90" style="font-size:16.40px" ><tspan x="350.20" textLength="5.39" lengthAdjust="spacingAndGlyphs">/</tspan><tspan x="355.59" textLength="36.44" lengthAdjust="spacingAndGlyphs">eth1</tspan></text>
<text y="38.80" style="font-size:13.12px" ><tspan x="391.60" textLength="3.56" lengthAdjust="spacingAndGlyphs">i</tspan></text>
<text y="34.90" style="font-size:16.40px" ><tspan x="394.90" textLength="72.30" lengthAdjust="spacingAndGlyphs">nterface/</tspan><tspan x="467.20" textLength="28.34" lengthAdjust="spacingAndGlyphs">sts/</tspan><tspan x="495.54" textLength="35.24" lengthAdjust="spacingAndGlyphs">exp-</tspan><tspan x="530.78" textLength="15.58" lengthAdjust="spacingAndGlyphs">a-</tspan><tspan x="546.36" textLength="36.31" lengthAdjust="spacingAndGlyphs">720-</tspan><tspan x="582.67" textLength="52.40" lengthAdjust="spacingAndGlyphs">html5-</tspan><tspan x="635.07" textLength="48.41" lengthAdjust="spacingAndGlyphs">http3/</tspan><tspan x="683.49" textLength="107.57" lengthAdjust="spacingAndGlyphs">1646712262-</tspan><tspan x="791.06" textLength="24.06" lengthAdjust="spacingAndGlyphs">c0.</tspan><tspan x="815.12" textLength="107.10" lengthAdjust="spacingAndGlyphs">c5s3ipsecsts.</tspan><tspan x="922.22" textLength="61.27" lengthAdjust="spacingAndGlyphs">hdumb.</tspan><tspan x="983.49" textLength="60.58" lengthAdjust="spacingAndGlyphs">pharos-</tspan><tspan x="1044.06" textLength="35.24" lengthAdjust="spacingAndGlyphs">exp-</tspan><tspan x="1079.31" textLength="15.58" lengthAdjust="spacingAndGlyphs">a-</tspan><tspan x="1094.88" textLength="36.31" lengthAdjust="spacingAndGlyphs">720-</tspan><tspan x="1131.20" textLength="52.40" lengthAdjust="spacingAndGlyphs">html5-</tspan><tspan x="1183.60" textLength="43.02" lengthAdjust="spacingAndGlyphs">http3</tspan></text>
<text y="844.00" style="font-size:16.40px" ><tspan x="75.72" textLength="10.18" lengthAdjust="spacingAndGlyphs">0</tspan></text>
<text y="714.00" style="font-size:16.40px" ><tspan x="55.36" textLength="30.54" lengthAdjust="spacingAndGlyphs">500</tspan></text>
<text y="584.00" style="font-size:16.40px" ><tspan x="45.18" textLength="40.72" lengthAdjust="spacingAndGlyphs">1000</tspan></text>
<text y="454.00" style="font-size:16.40px" ><tspan x="45.18" textLength="40.72" lengthAdjust="spacingAndGlyphs">1500</tspan></text>
<text y="323.00" style="font-size:16.40px" ><tspan x="45.18" textLength="40.72" lengthAdjust="spacingAndGlyphs">2000</tspan></text>
<text y="193.00" style="font-size:16.40px" ><tspan x="45.18" textLength="40.72" lengthAdjust="spacingAndGlyphs">2500</tspan></text>
<text y="63.00" style="font-size:16.40px" ><tspan x="45.18" textLength="40.72" lengthAdjust="spacingAndGlyphs">3000</tspan></text>
<text y="863.60" style="font-size:16.40px" ><tspan x="93.31" textLength="10.18" lengthAdjust="spacingAndGlyphs">0</tspan></text>
<text y="863.60" style="font-size:16.40px" ><tspan x="302.22" textLength="20.36" lengthAdjust="spacingAndGlyphs">50</tspan></text>
<text y="863.60" style="font-size:16.40px" ><tspan x="511.13" textLength="30.54" lengthAdjust="spacingAndGlyphs">100</tspan></text>
<text y="863.60" style="font-size:16.40px" ><tspan x="725.13" textLength="30.54" lengthAdjust="spacingAndGlyphs">150</tspan></text>
<text y="863.60" style="font-size:16.40px" ><tspan x="939.13" textLength="30.54" lengthAdjust="spacingAndGlyphs">200</tspan></text>
<text y="863.60" style="font-size:16.40px" ><tspan x="1153.13" textLength="30.54" lengthAdjust="spacingAndGlyphs">250</tspan></text>
<text y="891.80" style="font-size:16.40px" ><tspan x="598.22" textLength="39.65" lengthAdjust="spacingAndGlyphs">Time</tspan><tspan x="642.96" textLength="20.82" lengthAdjust="spacingAndGlyphs">(s)</tspan></text>
<g transform="translate(23.9 448) rotate(-90)">
<text y="0.00" style="font-size:16.40px" ><tspan x="-30.98" textLength="61.97" lengthAdjust="spacingAndGlyphs">Packets</tspan></text>
</g>
<text y="80.00" style="font-size:16.40px" ><tspan x="1056.41" textLength="30.59" lengthAdjust="spacingAndGlyphs">TCP</tspan></text>
<text y="99.00" style="font-size:16.40px" ><tspan x="1053.32" textLength="33.68" lengthAdjust="spacingAndGlyphs">UDP</tspan></text>
<text y="118.00" style="font-size:16.40px" ><tspan x="968.99" textLength="14.37" lengthAdjust="spacingAndGlyphs">IP</tspan></text>
<text y="118.00" style="font-size:16.40px" ><tspan x="988.04" textLength="43.25" lengthAdjust="spacingAndGlyphs">(!TCP</tspan></text>
<text y="118.00" style="font-size:16.40px" ><tspan x="1041.16" textLength="46.34" lengthAdjust="spacingAndGlyphs">!UDP)</tspan></text>
</svg></body></html>
